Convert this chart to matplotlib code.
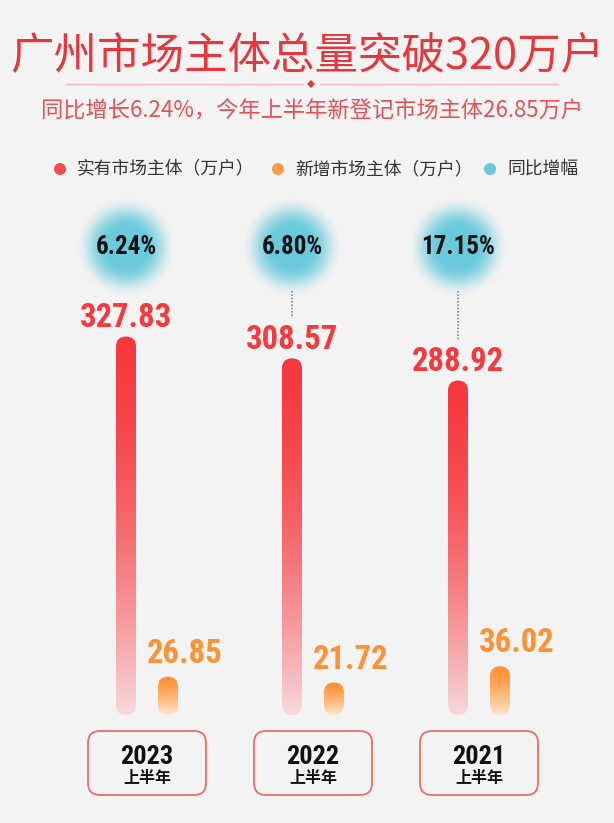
import numpy as np
import matplotlib
matplotlib.use('Agg')
import matplotlib.pyplot as plt
from matplotlib import font_manager
from matplotlib.patches import FancyBboxPatch, Circle, Polygon
from matplotlib.colors import to_rgb

# --- datos ---
years = ['2023', '2022', '2021']
year_sub = '上半年'
existing = [327.83, 308.57, 288.92]    # 实有市场主体（万户）
new_reg = [26.85, 21.72, 36.02]        # 新增市场主体（万户）
growth = ['6.24%', '6.80%', '17.15%']  # 同比增幅
legend_labels = ['实有市场主体（万户）', '新增市场主体（万户）', '同比增幅']
title = '广州市场主体总量突破320万户'
subtitle = '同比增长6.24%，今年上半年新登记市场主体26.85万户'

W, H = 614, 823
BG = '#f3f3f3'
RED = '#f5393e'
RED_PALE = '#f7d8db'
ORANGE = '#ff9233'
ORANGE_PALE = '#fde6cf'
CYAN = '#5bc6d9'
CJK = ['Noto Sans CJK SC', 'DejaVu Sans']

# fuente estrecha para los números, si hay alguna
names = {f.name for f in font_manager.fontManager.ttflist}
NUM = None
for cand in ['Roboto Condensed', 'Liberation Sans Narrow', 'DejaVu Sans Condensed',
             'Open Sans Condensed']:
    if cand in names:
        NUM = dict(family=cand)
        break
if NUM is None:
    NUM = dict(family='DejaVu Sans', stretch='condensed')

fig = plt.figure(figsize=(W / 100, H / 100), dpi=100)
fig.patch.set_facecolor(BG)

# ejes de las barras: x = grupo, y = 万户
GAP = 166.0     # px entre grupos
PX = 1.13       # px por 万户
X0 = 147.0      # px del centro del primer grupo
Y0 = 116.0      # px (desde abajo) del valor 0
BASE = -7
ax = fig.add_axes([0, 0, 1, 1])
ax.axis('off')
ax.set_autoscale_on(False)
ax.set_xlim(-X0 / GAP, (W - X0) / GAP)
ax.set_ylim(-Y0 / PX, (H - Y0) / PX)

# ejes de decoración en px (y hacia abajo)
deco = fig.add_axes([0, 0, 1, 1])
deco.axis('off')
deco.set_autoscale_on(False)
deco.set_xlim(0, W)
deco.set_ylim(H, 0)

bw = 20 / GAP
off = 21 / GAP


def grad_bar(x, top, c_top, c_bot, gamma):
    box = FancyBboxPatch((x - bw / 2, BASE), bw, top - BASE,
                         boxstyle=f'round,pad=0,rounding_size={bw / 2}',
                         mutation_aspect=GAP / PX, fc='none', ec='none')
    ax.add_patch(box)
    t = np.linspace(0, 1, 256) ** gamma
    a, b = np.array(to_rgb(c_top)), np.array(to_rgb(c_bot))
    arr = (a[None, :] * (1 - t[:, None]) + b[None, :] * t[:, None])[:, None, :]
    im = ax.imshow(arr, extent=(x - bw / 2, x + bw / 2, BASE, top), origin='upper',
                   aspect='auto', interpolation='bilinear', zorder=2)
    im.set_clip_path(box)


def to_px(x, y):
    dx, dy = ax.transData.transform((x, y))
    return dx, H - dy


# radial para los círculos
n = 201
g = np.linspace(-1, 1, n)
rr = np.hypot(*np.meshgrid(g, g))
alpha = np.clip((1 - rr) / 0.62, 0, 1)
alpha = alpha * alpha * (3 - 2 * alpha) * 0.9
halo = np.zeros((n, n, 4))
halo[..., :3] = to_rgb(CYAN)
halo[..., 3] = alpha

for i in range(len(years)):
    xr, xo = i - off, i + off
    grad_bar(xr, existing[i], RED, RED_PALE, 1.7)
    grad_bar(xo, new_reg[i], ORANGE, ORANGE_PALE, 1.4)

    ax.annotate(f'{existing[i]:.2f}', (xr, existing[i]), xytext=(0, 2),
                textcoords='offset points', ha='center', va='bottom',
                fontsize=23.5, fontweight='bold', color=RED, **NUM)
    ax.annotate(f'{new_reg[i]:.2f}', (xo, new_reg[i]), xytext=(12, 5),
                textcoords='offset points', ha='center', va='bottom',
                fontsize=23.5, fontweight='bold', color=ORANGE, **NUM)

    cx, _ = to_px(xr, 0)
    cy, R = 247, 51
    deco.imshow(halo, extent=(cx - R, cx + R, cy + R, cy - R), zorder=1,
                interpolation='bilinear')
    deco.text(cx, cy, growth[i], ha='center', va='center', fontsize=18,
              fontweight='bold', color='#111111', zorder=3, **NUM)

    # línea punteada entre círculo y etiqueta
    _, ty = to_px(xr, existing[i])
    y_end = ty - 40
    if y_end - 291 > 15:
        deco.plot([cx, cx], [291, y_end], ls=(0, (1, 1)), lw=1.2, color='#888888')

    # caja del año
    bx, _ = to_px(i, 0)
    deco.add_patch(FancyBboxPatch((bx - 59, 731), 118, 64,
                                  boxstyle='round,pad=0,rounding_size=12',
                                  fc=BG, ec='#f06a6a', lw=1.3))
    deco.text(bx, 757, years[i], ha='center', va='center', fontsize=19,
              fontweight='bold', color='#111111', **NUM)
    deco.text(bx, 778, year_sub, ha='center', va='center', fontsize=11.5,
              fontweight='bold', color='#111111', family=CJK)

# título
deco.text(W / 2, 57, title, ha='center', va='center', fontsize=31.3,
          color='#e8363d', family=CJK)
deco.plot([66, 303], [84, 84], color='#f2b8b8', lw=1)
deco.plot([320, 558], [84, 84], color='#f2b8b8', lw=1)
deco.add_patch(Polygon([[311, 80], [315, 84], [311, 88], [307, 84]],
                       closed=True, fc='#e8363d', ec='none'))
deco.text(312, 110, subtitle, ha='center', va='center', fontsize=16,
          color='#e35258', family=CJK)

# leyenda
leg_x = [60, 278, 490]
leg_c = [RED, ORANGE, CYAN]
for lx, lc, lt in zip(leg_x, leg_c, legend_labels):
    deco.add_patch(Circle((lx, 169), 6, fc=lc, ec='none', alpha=0.9))
    deco.text(lx + 17, 169, lt, ha='left', va='center', fontsize=12.8,
              color='#333333', family=CJK)

fig.savefig('out.png', dpi=100, facecolor=BG)
